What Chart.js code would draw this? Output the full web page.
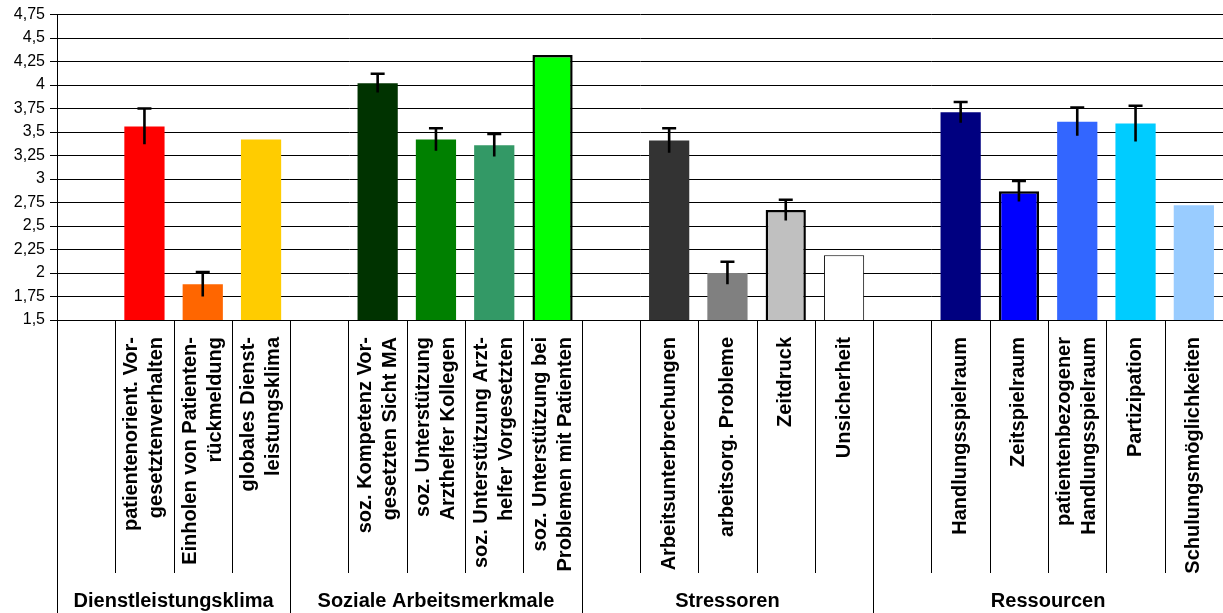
<!DOCTYPE html>
<html>
<head>
<meta charset="utf-8">
<script src="https://cdn.jsdelivr.net/npm/chart.js@4/dist/chart.umd.min.js"></script>
<style>
  html, body { margin: 0; padding: 0; background: #fff; }
  #wrap { width: 1223px; height: 613px; position: relative; }
</style>
</head>
<body>
<div id="wrap"><canvas id="chart"></canvas></div>
<script>
/* ===== Data ===== */
// empty strings are the gap slots between the groups
const categories = [
  '',
  ['patientenorient. Vor-', 'gesetztenverhalten'],
  ['Einholen von Patienten-', 'rückmeldung'],
  ['globales Dienst-', 'leistungsklima'],
  '',
  ['soz. Kompetenz Vor-', 'gesetzten Sicht MA'],
  ['soz. Unterstützung', 'Arzthelfer Kollegen'],
  ['soz. Unterstützung Arzt-', 'helfer Vorgesetzten'],
  ['soz. Unterstützung bei', 'Problemen mit Patienten'],
  '',
  'Arbeitsunterbrechungen',
  'arbeitsorg. Probleme',
  'Zeitdruck',
  'Unsicherheit',
  '',
  'Handlungsspielraum',
  'Zeitspielraum',
  ['patientenbezogener', 'Handlungsspielraum'],
  'Partizipation',
  'Schulungsmöglichkeiten'
];

const means = [
  null, 3.56, 1.88, 3.42,
  null, 4.02, 3.42, 3.36, 4.32,
  null, 3.41, 2.00, 2.67, 2.19,
  null, 3.71, 2.87, 3.61, 3.59, 2.72
];

const errors = [
  null, 0.19, 0.13, null,
  null, 0.10, 0.12, 0.12, null,
  null, 0.13, 0.12, 0.11, null,
  null, 0.11, 0.11, 0.15, 0.19, null
];

const groupNames  = ['Dienstleistungsklima', 'Soziale Arbeitsmerkmale', 'Stressoren', 'Ressourcen'];
const groupStarts = [0, 4, 9, 14];

const yTicks = [1.5, 1.75, 2, 2.25, 2.5, 2.75, 3, 3.25, 3.5, 3.75, 4, 4.25, 4.5, 4.75];

/* ===== Styles ===== */
const barColors = [
  '#fff', '#ff0000', '#ff6600', '#ffcc00',
  '#fff', '#003300', '#008000', '#339966', '#00ff00',
  '#fff', '#333333', '#808080', '#c0c0c0', '#ffffff',
  '#fff', '#000080', '#0000ff', '#3366ff', '#00ccff', '#99ccff'
];
const barBorders = [
  0, 0, 0, 0,
  0, 0, 0, 0, 2.5,
  0, 0, 0, 2.5, 1,
  0, 0, 2.5, 0, 0, 0
];

const FONT = '"Liberation Sans", Arial, sans-serif';
const fmt = v => String(Math.round(v * 100) / 100).replace('.', ',');

// error bars, rotated category labels, separators and group names
const extrasPlugin = {
  id: 'extras',
  afterDatasetsDraw(chart) {
    const ctx = chart.ctx;
    const y = chart.scales.y;
    const meta = chart.getDatasetMeta(0);
    ctx.save();
    ctx.strokeStyle = '#000';
    ctx.lineWidth = 2.6;
    errors.forEach((e, i) => {
      if (e == null || means[i] == null) return;
      const bx = meta.data[i].x;
      const top = y.getPixelForValue(means[i] + e);
      const bot = y.getPixelForValue(means[i] - e);
      ctx.beginPath();
      ctx.moveTo(bx, bot);
      ctx.lineTo(bx, top);
      ctx.moveTo(bx - 7, top);
      ctx.lineTo(bx + 7, top);
      ctx.stroke();
    });
    ctx.restore();
  },
  afterDraw(chart) {
    const ctx = chart.ctx;
    const x = chart.scales.x;
    const area = chart.chartArea;
    const slot = x.getPixelForValue(1) - x.getPixelForValue(0);
    const n = categories.length;
    const bounds = [...groupStarts, n];

    ctx.save();
    // separators
    ctx.strokeStyle = '#000';
    ctx.lineWidth = 1;
    for (let i = 0; i <= n; i++) {
      const bx = Math.round(x.getPixelForValue(0) - slot / 2 + i * slot) + 0.5;
      const long = bounds.includes(i);
      ctx.beginPath();
      ctx.moveTo(bx, area.bottom);
      ctx.lineTo(bx, long ? chart.height : area.bottom + 253);
      ctx.stroke();
    }

    // rotated category labels
    ctx.fillStyle = '#000';
    ctx.font = 'bold 20px ' + FONT;
    ctx.textAlign = 'right';
    ctx.textBaseline = 'middle';
    const lh = 25;
    categories.forEach((lab, i) => {
      const lines = Array.isArray(lab) ? lab : [lab];
      if (!lines[0]) return;
      const cx = x.getPixelForValue(i);
      ctx.save();
      ctx.translate(cx, area.bottom + 17);
      ctx.rotate(-Math.PI / 2);
      lines.forEach((t, j) => {
        ctx.fillText(t, 0, (j - (lines.length - 1) / 2) * lh);
      });
      ctx.restore();
    });

    // group names
    ctx.textAlign = 'center';
    groupNames.forEach((g, k) => {
      const x0 = x.getPixelForValue(groupStarts[k]) - slot / 2;
      const x1 = x.getPixelForValue(bounds[k + 1] - 1) + slot / 2;
      ctx.fillText(g, (x0 + x1) / 2, 601);
    });
    ctx.restore();
  }
};

new Chart(document.getElementById('chart'), {
  type: 'bar',
  data: {
    labels: categories,
    datasets: [{
      data: means,
      backgroundColor: barColors,
      borderColor: '#000',
      borderWidth: barBorders,
      borderSkipped: false,
      categoryPercentage: 1,
      barPercentage: 0.69
    }]
  },
  options: {
    responsive: true,
    maintainAspectRatio: false,
    devicePixelRatio: 1,
    animation: false,
    layout: { padding: { top: 14, right: 0, left: 0, bottom: 0 } },
    plugins: { legend: { display: false }, tooltip: { enabled: false } },
    scales: {
      x: {
        afterFit: s => { s.height = 293; },
        ticks: { display: false },
        grid: { display: false },
        border: { display: true, color: '#000', width: 1 }
      },
      y: {
        min: 1.5,
        max: 4.75,
        afterFit: s => { s.width = 57; },
        afterBuildTicks: s => { s.ticks = yTicks.map(v => ({ value: v })); },
        ticks: {
          color: '#000',
          padding: 5,
          font: { family: FONT, size: 16 },
          callback: v => fmt(v)
        },
        grid: { color: '#000', lineWidth: 1, tickLength: 7 },
        border: { display: true, color: '#000', width: 1 }
      }
    }
  },
  plugins: [extrasPlugin]
});
</script>
</body>
</html>
